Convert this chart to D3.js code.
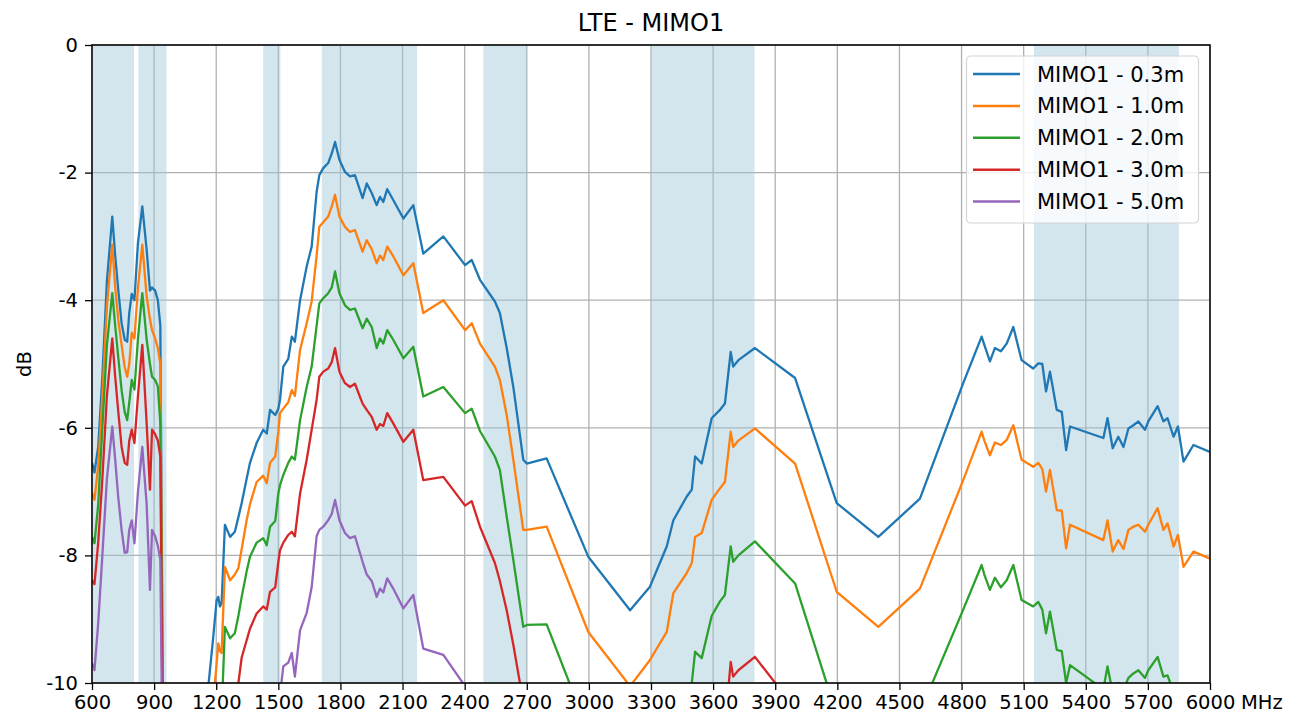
<!DOCTYPE html>
<html><head><meta charset="utf-8">
<script src="https://cdn.jsdelivr.net/npm/d3@7"></script>
<style>
body{margin:0;background:#fff}
svg{display:block}
text{font-family:"DejaVu Sans",sans-serif;fill:#000}
</style>
</head><body>
<svg id="chart" width="1305" height="722"></svg>
<script>
// ---- data ----
const freqs = [
  600,612,630,650,672,698,712,727,743,758,770,780,792,805,822,843,864,880,890,905,918,930,950,
  1162,1185,1202,1210,1218,1226,1242,1267,1290,1307,1323,1347,1363,1395,1427,1444,1460,1485,1500,1508,
  1524,1548,1565,1580,1605,1637,1661,1685,1698,1717,1741,1758,1774,1795,1822,1846,1870,1907,1927,1951,
  1975,1991,2007,2026,2055,2104,2152,2200,2297,2402,2434,2474,2546,2570,2603,2635,2683,2700,2796,
  2997,3199,3295,3376,3408,3472,3497,3513,3545,3593,3633,3657,3685,3697,3722,3802,3996,4197,4398,4599,
  4808,4897,4910,4937,4961,4990,5018,5050,5090,5146,5171,5190,5208,5227,5260,5284,5305,5324,5485,5505,
  5530,5557,5582,5606,5630,5654,5686,5702,5747,5775,5795,5824,5845,5872,5920,6000
];
const mimo03 = [
  -6.55,-6.7,-6.3,-5.2,-3.7,-2.69,-3.3,-3.84,-4.36,-4.62,-4.65,-4.2,-3.9,-4.0,-3.1,-2.53,-3.21,-3.85,-3.8,-3.85,-4.0,-4.4,-14,
  -10.05,-9.3,-8.7,-8.65,-8.8,-8.75,-7.52,-7.71,-7.63,-7.4,-7.18,-6.8,-6.55,-6.24,-6.03,-6.09,-5.72,-5.8,-5.7,-5.56,
  -5.04,-4.92,-4.57,-4.65,-4.0,-3.47,-3.16,-2.3,-2.04,-1.93,-1.85,-1.7,-1.52,-1.8,-1.99,-2.06,-2.04,-2.4,-2.17,-2.32,
  -2.51,-2.38,-2.46,-2.26,-2.43,-2.72,-2.51,-3.27,-3.0,-3.45,-3.37,-3.68,-4.02,-4.2,-4.75,-5.36,-6.5,-6.56,-6.48,
  -8.02,-8.86,-8.49,-7.86,-7.45,-7.08,-6.97,-6.45,-6.56,-5.85,-5.72,-5.62,-4.81,-5.04,-4.94,-4.75,-5.22,-7.18,-7.71,-7.11,
  -5.3,-4.57,-4.7,-4.96,-4.75,-4.8,-4.68,-4.42,-4.94,-5.07,-4.99,-5.0,-5.43,-5.12,-5.72,-5.75,-6.35,-5.98,-6.16,-5.85,
  -6.32,-6.14,-6.3,-6.01,-5.96,-5.9,-6.03,-5.9,-5.66,-5.9,-5.85,-6.14,-5.98,-6.53,-6.27,-6.38
];
const mimo10 = [
  -7.02,-7.13,-6.6,-5.5,-4.1,-3.13,-3.8,-4.31,-4.7,-5.05,-5.2,-5.0,-4.51,-4.6,-3.8,-3.13,-3.94,-4.3,-4.47,-4.6,-4.75,-5.0,-14,
  -11.2,-10.3,-9.7,-9.38,-9.5,-9.53,-8.18,-8.39,-8.3,-8.2,-7.9,-7.45,-7.2,-6.85,-6.75,-6.87,-6.55,-6.45,-6.06,-5.77,
  -5.7,-5.6,-5.41,-5.5,-4.78,-4.36,-4.02,-3.3,-2.85,-2.78,-2.69,-2.53,-2.35,-2.69,-2.85,-2.93,-2.9,-3.24,-3.06,-3.2,
  -3.42,-3.3,-3.37,-3.16,-3.31,-3.61,-3.42,-4.2,-4.0,-4.47,-4.36,-4.68,-5.04,-5.25,-5.8,-6.5,-7.6,-7.6,-7.55,
  -9.2,-10.05,-9.64,-9.2,-8.59,-8.28,-8.12,-7.71,-7.65,-7.13,-6.95,-6.85,-6.06,-6.3,-6.2,-6.01,-6.56,-8.57,-9.12,-8.52,
  -6.82,-6.06,-6.2,-6.43,-6.23,-6.27,-6.19,-5.96,-6.5,-6.61,-6.55,-6.65,-7.0,-6.66,-7.29,-7.3,-7.89,-7.52,-7.76,-7.45,
  -7.94,-7.76,-7.9,-7.6,-7.55,-7.52,-7.63,-7.52,-7.26,-7.6,-7.5,-7.86,-7.68,-8.18,-7.94,-8.05
];
const mimo20 = [
  -7.71,-7.81,-7.2,-6.0,-4.7,-3.89,-4.4,-4.9,-5.41,-5.75,-5.88,-5.6,-5.25,-5.4,-4.6,-3.89,-4.62,-5.0,-5.2,-5.25,-5.35,-5.93,-14,
  -12.5,-11.8,-11.3,-11.0,-10.8,-10.5,-9.12,-9.3,-9.22,-8.95,-8.65,-8.25,-8.02,-7.8,-7.73,-7.84,-7.55,-7.46,-7.03,-6.9,
  -6.74,-6.55,-6.45,-6.5,-5.88,-5.36,-5.04,-4.4,-4.05,-3.97,-3.89,-3.8,-3.55,-3.89,-4.08,-4.15,-4.13,-4.44,-4.29,-4.42,
  -4.75,-4.6,-4.68,-4.47,-4.62,-4.91,-4.73,-5.51,-5.36,-5.77,-5.7,-6.05,-6.45,-6.66,-7.39,-8.07,-9.12,-9.09,-9.08,
  -10.76,-12,-11.8,-11.2,-10.8,-10.4,-10.0,-9.51,-9.61,-8.95,-8.72,-8.62,-7.86,-8.1,-8.0,-7.78,-8.44,-10.5,-11.2,-10.46,
  -8.85,-8.15,-8.3,-8.54,-8.35,-8.5,-8.39,-8.15,-8.7,-8.8,-8.73,-8.85,-9.22,-8.88,-9.48,-9.5,-10.0,-9.72,-10.1,-9.74,
  -10.15,-10.0,-10.1,-9.92,-9.85,-9.8,-9.92,-9.8,-9.59,-9.9,-9.88,-10.15,-10.05,-10.6,-10.4,-10.5
];
const mimo30 = [
  -8.39,-8.45,-7.8,-6.8,-5.5,-4.6,-5.2,-5.75,-6.3,-6.55,-6.58,-6.2,-6.03,-6.24,-5.5,-4.7,-5.93,-6.97,-6.03,-6.1,-6.2,-6.45,-14,
  -13,-12.7,-12.4,-12.3,-12.2,-12.0,-11.6,-11.1,-10.6,-10.0,-9.6,-9.33,-9.15,-8.91,-8.8,-8.85,-8.57,-8.5,-8.1,-7.92,
  -7.8,-7.68,-7.63,-7.7,-7.03,-6.5,-6.03,-5.56,-5.2,-5.12,-5.07,-4.97,-4.75,-5.12,-5.3,-5.36,-5.31,-5.62,-5.72,-5.83,
  -6.03,-5.94,-5.97,-5.77,-5.93,-6.22,-6.03,-6.82,-6.77,-7.22,-7.15,-7.55,-8.12,-8.4,-8.86,-9.4,-10.3,-10.5,-11.5,
  -12.5,-13,-12.8,-12.5,-12.3,-12,-11.8,-11.5,-11.4,-11.1,-10.9,-10.7,-9.67,-9.9,-9.8,-9.59,-10.4,-12,-12.5,-12,
  -11.5,-11.3,-11.3,-11.4,-11.3,-11.3,-11.3,-11.2,-11.4,-11.5,-11.5,-11.5,-11.8,-11.6,-11.9,-11.9,-12.2,-12,-12.3,-12.1,
  -12.4,-12.3,-12.3,-12.2,-12.2,-12.1,-12.2,-12.1,-12,-12.2,-12.2,-12.4,-12.3,-12.7,-12.5,-12.6
];
const mimo50 = [
  -9.69,-9.8,-9.06,-8.0,-6.8,-5.98,-6.5,-7.1,-7.6,-7.96,-7.95,-7.6,-7.45,-7.81,-7.0,-6.3,-7.2,-8.54,-7.6,-7.7,-7.85,-8.07,-14,
  -14,-13.8,-13.6,-13.5,-13.4,-13.3,-13.1,-12.8,-12.5,-12.3,-12.1,-11.8,-11.6,-11.3,-11.1,-11.0,-10.9,-10.8,-10.6,-10.2,
  -9.74,-9.68,-9.53,-9.9,-9.17,-8.9,-8.5,-7.7,-7.6,-7.55,-7.45,-7.35,-7.13,-7.45,-7.65,-7.73,-7.7,-8.1,-8.3,-8.4,
  -8.65,-8.52,-8.58,-8.36,-8.52,-8.83,-8.62,-9.46,-9.56,-10.05,-10.3,-10.6,-11,-11.2,-11.5,-11.8,-12.3,-12.4,-12.5,
  -13,-13.5,-13.5,-13.4,-13.3,-13.2,-13.1,-13,-13,-12.9,-12.8,-12.8,-12.5,-12.7,-12.6,-12.5,-12.9,-13.5,-14,-13.5,
  -13,-12.8,-12.9,-13,-12.9,-12.9,-12.9,-12.8,-13,-13.1,-13.1,-13.1,-13.4,-13.2,-13.5,-13.5,-13.8,-13.6,-13.9,-13.7,
  -14,-13.9,-14,-13.8,-13.8,-13.7,-13.8,-13.7,-13.6,-13.8,-13.8,-14,-13.9,-14.3,-14.1,-14.2
];
const seriesNames = ["MIMO1 - 0.3m","MIMO1 - 1.0m","MIMO1 - 2.0m","MIMO1 - 3.0m","MIMO1 - 5.0m"];
const seriesColors = ["#1f77b4","#ff7f0e","#2ca02c","#d62728","#9467bd"];
const bandStarts = [605, 824, 1427, 1710, 2490, 3300, 5150];
const bandEnds   = [803, 960, 1510, 2170, 2700, 3800, 5850];
const xTicks = [600,900,1200,1500,1800,2100,2400,2700,3000,3300,3600,3900,4200,4500,4800,5100,5400,5700,6000];
const yTicks = [0,-2,-4,-6,-8,-10];

// ---- layout ----
const L = 92, R = 1210, T = 45, B = 683;
const svg = d3.select("#chart");
const x = d3.scaleLinear().domain([600, 6000]).range([L, R]);
const y = d3.scaleLinear().domain([-10, 0]).range([B, T]);

svg.append("defs").append("clipPath").attr("id","clip")
  .append("rect").attr("x",L).attr("y",T).attr("width",R-L).attr("height",B-T);

// grid
const grid = svg.append("g");
grid.selectAll("line.vx").data(xTicks).join("line")
  .attr("x1",d=>x(d)).attr("x2",d=>x(d)).attr("y1",T).attr("y2",B)
  .attr("stroke","#b0b0b0").attr("stroke-width",1.3);
grid.selectAll("line.hy").data(yTicks).join("line")
  .attr("y1",d=>y(d)).attr("y2",d=>y(d)).attr("x1",L).attr("x2",R)
  .attr("stroke","#b0b0b0").attr("stroke-width",1.3);

// bands
svg.append("g").selectAll("rect").data(bandStarts.map((s,i)=>[s,bandEnds[i]])).join("rect")
  .attr("x",d=>x(d[0])).attr("width",d=>x(d[1])-x(d[0]))
  .attr("y",T).attr("height",B-T)
  .attr("fill","#9ec6d8").attr("fill-opacity",0.45);

// lines
const allSeries = [mimo03, mimo10, mimo20, mimo30, mimo50];
const line = d3.line().x(d=>x(d[0])).y(d=>y(d[1]));
const lg = svg.append("g").attr("clip-path","url(#clip)");
allSeries.forEach((vals,i)=>{
  lg.append("path")
    .attr("d", line(freqs.map((f,j)=>[f, vals[j]])))
    .attr("fill","none").attr("stroke",seriesColors[i])
    .attr("stroke-width",2.3).attr("stroke-linejoin","round");
});

// axes
const xAxis = d3.axisBottom(x).tickValues(xTicks).tickSize(7).tickPadding(5).tickFormat(d=>String(d));
const gx = svg.append("g").attr("transform",`translate(0,${B})`).call(xAxis);
const yAxis = d3.axisLeft(y).tickValues(yTicks).tickSize(7).tickPadding(7).tickFormat(d=>String(d));
const gy = svg.append("g").attr("transform",`translate(${L},0)`).call(yAxis);
[gx,gy].forEach(g=>{
  g.select(".domain").remove();
  g.selectAll(".tick line").attr("stroke","#000").attr("stroke-width",1.3);
  g.selectAll(".tick text").attr("font-size",19.5).attr("font-family","DejaVu Sans").attr("fill","#000");
});

// spines
svg.append("rect").attr("x",L).attr("y",T).attr("width",R-L).attr("height",B-T)
  .attr("fill","none").attr("stroke","#000").attr("stroke-width",1.5);

// labels
svg.append("text").attr("x",(L+R)/2).attr("y",31).attr("text-anchor","middle")
  .attr("font-size",24).text("LTE - MIMO1");
svg.append("text").attr("transform",`translate(24,${(T+B)/2}) rotate(-90)`)
  .attr("text-anchor","middle").attr("dy","0.35em").attr("font-size",19.5).text("dB");
svg.append("text").attr("x",1241).attr("y",B+12).attr("dy","0.71em")
  .attr("font-size",19.5).text("MHz");

// legend
const leg = svg.append("g");
leg.append("rect").attr("x",966.5).attr("y",56).attr("width",232).attr("height",167).attr("rx",4)
  .attr("fill","#fff").attr("fill-opacity",0.8).attr("stroke","#d4d4d4").attr("stroke-width",1.2);
seriesNames.forEach((name,i)=>{
  const cy = 74 + i*31.9;
  leg.append("line").attr("x1",973).attr("x2",1020).attr("y1",cy).attr("y2",cy)
    .attr("stroke",seriesColors[i]).attr("stroke-width",2.5);
  leg.append("text").attr("x",1037).attr("y",cy).attr("dy","0.36em")
    .attr("font-size",21).text(name);
});
</script>
</body></html>
